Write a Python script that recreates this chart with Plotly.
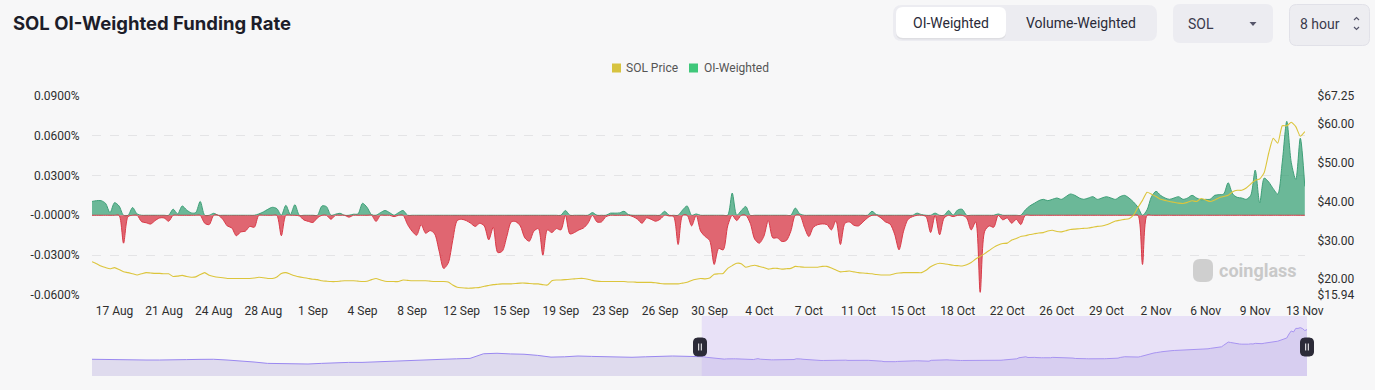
import plotly.graph_objects as go
import pandas as pd

W, H = 1375, 390

# ---------------- data ----------------
funding_start = "2023-08-15 16:00"   # 8-hour funding intervals
funding_rate = [  # OI-weighted funding rate, in %
    0.0104, 0.011, 0.011, 0.009, 0.002, 0.0095, 0.007, -0.021, -0.001, 0.0058,
    0.001, -0.0048, -0.0056, -0.0066, -0.004, -0.002, -0.002, -0.0045, 0.0046, 0.001,
    0.007, 0.004, 0.0018, 0.002, 0.0104, -0.006, -0.007, 0.0015, 0.0, -0.003,
    -0.008, -0.0095, -0.0154, -0.0125, -0.012, -0.0084, -0.009, 0.001, 0.0025, 0.0045,
    0.006, 0.005, -0.0154, 0.0075, 0.0005, 0.008, -0.0005, -0.0035, -0.0046, -0.0054,
    -0.002, 0.007, 0.0065, -0.003, 0.0008, 0.0015, 0.0, -0.0014, 0.0008, 0.001,
    0.009, 0.006, 0.0005, -0.0046, 0.002, 0.0036, 0.002, -0.001, 0.002, 0.0036,
    -0.007, -0.012, -0.015, -0.007, -0.0135, -0.0115, -0.014, -0.027, -0.040, -0.036,
    -0.019, -0.004, -0.003, -0.004, -0.006, -0.0084, -0.006, -0.008, -0.0185, -0.009,
    -0.028, -0.027, -0.016, -0.005, -0.0048, -0.008, -0.017, -0.0195, -0.012, -0.010,
    -0.030, -0.011, -0.013, -0.010, -0.011, 0.0036, -0.014, -0.013, -0.011, -0.0096,
    -0.006, 0.002, -0.005, -0.005, -0.001, 0.0016, 0.0016, 0.0018, 0.003, 0.0005,
    -0.001, -0.003, -0.006, -0.002, -0.003, -0.0045, -0.003, 0.003, -0.0005, -0.001,
    -0.022, 0.004, 0.007, -0.008, 0.001, -0.012, -0.016, -0.019, -0.037, -0.025,
    -0.026, -0.008, 0.0167, -0.004, 0.0035, 0.0066, -0.006, -0.018, -0.021, -0.016,
    -0.004, -0.017, -0.017, -0.0197, -0.019, -0.012, 0.0054, 0.001, -0.009, -0.016,
    -0.009, -0.007, -0.0065, -0.007, -0.011, -0.004, -0.022, -0.006, -0.005, -0.0075,
    -0.008, -0.005, -0.002, 0.003, 0.0005, -0.002, -0.005, -0.0065, -0.014, -0.026,
    -0.012, -0.003, -0.001, 0.0016, 0.0005, -0.001, -0.013, 0.0016, -0.0147, -0.002,
    0.0036, -0.001, 0.004, 0.0045, -0.002, -0.011, -0.005, -0.058, -0.012, -0.008,
    -0.009, 0.001, -0.0034, -0.002, -0.006, -0.003, -0.007, 0.004, 0.007, 0.009,
    0.011, 0.012, 0.011, 0.012, 0.013, 0.012, 0.014, 0.016, 0.015, 0.013,
    0.012, 0.013, 0.014, 0.012, 0.013, 0.014, 0.013, 0.012, 0.014, 0.015,
    0.013, 0.010, 0.006, -0.037, 0.004, 0.014, 0.018, 0.015, 0.013, 0.012,
    0.013, 0.014, 0.012, 0.013, 0.015, 0.013, 0.0117, 0.012, 0.012, 0.015,
    0.0155, 0.016, 0.0245, 0.016, 0.0135, 0.013, 0.012, 0.015, 0.034, 0.0094,
    0.028, 0.025, 0.020, 0.016, 0.040, 0.0707, 0.0396, 0.027, 0.058, 0.0217,
]
sol_price = [  # SOL price, USD
    24.5, 24.0, 23.4, 23.0, 22.7, 23.0, 22.5, 21.9, 21.7, 21.4,
    21.1, 21.4, 21.7, 21.6, 21.5, 21.5, 21.4, 21.4, 20.7, 20.8,
    21.0, 20.7, 20.5, 20.6, 21.2, 21.7, 21.0, 20.7, 20.5, 20.4,
    20.2, 20.2, 20.2, 20.2, 20.2, 20.2, 20.3, 20.5, 20.4, 20.2,
    20.2, 20.6, 21.5, 21.7, 21.3, 20.9, 20.6, 20.4, 20.2, 20.0,
    19.9, 19.6, 19.5, 19.4, 19.4, 19.5, 19.6, 19.6, 19.6, 19.5,
    19.4, 19.5, 19.9, 20.2, 19.8, 19.5, 19.4, 19.4, 19.4, 19.8,
    19.7, 19.6, 19.6, 19.6, 19.6, 19.5, 19.4, 19.4, 19.4, 19.3,
    18.5, 17.95, 17.8, 17.7, 17.7, 17.8, 17.9, 18.2, 18.4, 18.6,
    18.7, 18.8, 18.8, 18.8, 18.9, 19.0, 19.0, 18.9, 18.8, 18.8,
    18.6, 18.5, 19.6, 19.8, 19.8, 19.9, 20.0, 20.1, 20.2, 20.2,
    20.0, 19.7, 19.5, 19.4, 19.4, 19.4, 19.4, 19.4, 19.4, 19.3,
    19.3, 19.2, 19.2, 19.2, 19.2, 19.1, 18.9, 18.8, 18.8, 18.8,
    18.8, 19.0, 19.2, 19.7, 20.0, 20.2, 20.1, 20.3, 21.3, 21.4,
    21.5, 22.8, 23.5, 24.1, 24.0, 23.1, 23.4, 23.6, 23.3, 23.0,
    22.6, 22.8, 22.8, 22.6, 22.7, 22.8, 23.3, 23.2, 23.1, 23.1,
    23.1, 23.1, 23.3, 23.3, 22.9, 22.4, 21.9, 22.0, 22.1, 21.9,
    21.7, 21.6, 21.5, 21.4, 21.2, 21.1, 21.1, 21.1, 21.4, 21.6,
    21.7, 21.7, 21.7, 21.7, 21.7, 22.3, 23.2, 23.8, 24.1, 24.0,
    23.8, 23.6, 23.5, 23.4, 23.7, 24.3, 25.2, 25.9, 26.6, 27.4,
    28.2, 28.8, 29.2, 29.3, 30.1, 30.5, 31.0, 31.2, 31.5, 31.7,
    31.9, 32.0, 32.4, 32.6, 32.3, 32.2, 32.5, 32.8, 32.9, 33.0,
    33.1, 33.2, 33.4, 33.6, 33.7, 34.0, 34.5, 35.0, 35.2, 35.4,
    35.6, 36.5, 38.5, 40.3, 42.4, 41.9, 41.3, 40.6, 40.3, 40.0,
    39.8, 39.6, 39.5, 39.8, 40.2, 40.0, 40.8, 40.4, 40.0, 40.4,
    41.0, 41.3, 41.6, 42.5, 42.9, 42.9, 43.5, 44.5, 45.5, 45.8,
    47.5, 52.5, 56.3, 55.0, 59.5, 59.5, 60.4, 59.3, 56.8, 58.0,
]
tick_start = "2023-08-17 08:00"      # one axis label every 11 intervals (88 h)
tick_labels = ["17 Aug", "21 Aug", "24 Aug", "28 Aug", "1 Sep", "4 Sep", "8 Sep",
               "12 Sep", "15 Sep", "19 Sep", "23 Sep", "26 Sep", "30 Sep", "4 Oct",
               "7 Oct", "11 Oct", "15 Oct", "18 Oct", "22 Oct", "26 Oct", "29 Oct",
               "2 Nov", "6 Nov", "9 Nov", "13 Nov"]
rate_ticks = [-0.06, -0.03, 0.0, 0.03, 0.06, 0.09]
rate_labels = ["-0.0600%", "-0.0300%", "-0.0000%", "0.0300%", "0.0600%", "0.0900%"]
price_ticks = [15.94, 20, 30, 40, 50, 60, 67.25]
price_labels = ["$15.94", "$20.00", "$30.00", "$40.00", "$50.00", "$60.00", "$67.25"]

nav_early_start = "2023-05-17 08:00"  # navigator history, 2-day steps
nav_early_price = [
    20.9, 20.5, 20.0, 20.2, 20.0, 20.0, 20.6, 20.5, 20.8, 20.9,
    20.0, 19.0, 17.5, 15.8, 15.4, 15.1, 15.0, 15.8, 16.6, 17.0,
    17.0, 17.5, 18.0, 18.8, 19.2, 19.8, 20.9, 21.5, 22.0, 27.8,
    28.4, 27.6, 27.2, 25.8, 23.6, 24.0, 25.0, 24.5, 24.0, 23.5,
    23.4, 24.0, 24.7, 25.0, 24.6,
]

# ---------------- derived ----------------
times = pd.date_range(funding_start, periods=len(funding_rate), freq="8h")
ticks = pd.date_range(tick_start, periods=len(tick_labels), freq="88h")
pos = [max(v, 0) for v in funding_rate]
neg = [min(v, 0) for v in funding_rate]
nav_times = list(pd.date_range(nav_early_start, periods=len(nav_early_price), freq="2D")) + list(times)
nav_price = nav_early_price + sol_price

BG = "#f7f7f8"
TICKFONT = dict(family="Roboto, sans-serif", size=12, color="#2e2e2e")


def fx(x):
    return x / W


def fy(y):
    return 1 - y / H


def rrect(x0, y0, x1, y1, r):
    pts = [("M", x0 + r, y0), ("L", x1 - r, y0), ("Q", x1, y0, x1, y0 + r),
           ("L", x1, y1 - r), ("Q", x1, y1, x1 - r, y1), ("L", x0 + r, y1),
           ("Q", x0, y1, x0, y1 - r), ("L", x0, y0 + r), ("Q", x0, y0, x0 + r, y0)]
    s = ""
    for p in pts:
        if p[0] == "Q":
            s += f"Q{fx(p[1]):.5f},{fy(p[2]):.5f} {fx(p[3]):.5f},{fy(p[4]):.5f} "
        else:
            s += f"{p[0]}{fx(p[1]):.5f},{fy(p[2]):.5f} "
    return s + "Z"


fig = go.Figure()
fig.add_trace(go.Scatter(x=times, y=pos, mode="lines", fill="tozeroy",
                         line=dict(color="#3f9f78", width=1, shape="spline", smoothing=0.8),
                         fillcolor="rgba(52,160,115,0.72)", hoverinfo="skip", showlegend=False))
fig.add_trace(go.Scatter(x=times, y=neg, mode="lines", fill="tozeroy",
                         line=dict(color="#d83a48", width=1, shape="spline", smoothing=0.8),
                         fillcolor="rgba(214,40,55,0.70)", hoverinfo="skip", showlegend=False))
fig.add_trace(go.Scatter(x=times, y=sol_price, mode="lines", yaxis="y3",
                         line=dict(color="#dcc53c", width=1.1, shape="spline", smoothing=0.5),
                         hoverinfo="skip", showlegend=False))
fig.add_trace(go.Scatter(x=nav_times, y=nav_price, mode="lines", xaxis="x2", yaxis="y2",
                         fill="tozeroy", fillcolor="rgba(180,170,222,0.36)",
                         line=dict(color="#9a88f0", width=1), hoverinfo="skip", showlegend=False))

shapes = []
annotations = []

# selection window in navigator
shapes.append(dict(type="rect", xref="x2", yref="y2 domain", x0=times[0], x1=times[-1],
                   y0=0, y1=1, fillcolor="rgba(200,175,245,0.30)", line=dict(width=0), layer="above"))
for hx in (700, 1307):
    shapes.append(dict(type="path", xref="paper", yref="paper", xsizemode="pixel", ysizemode="pixel",
                       xanchor=fx(hx), yanchor=fy(347),
                       path="M -6.5,-5 Q -6.5,-9 -2.5,-9 L 2.5,-9 Q 6.5,-9 6.5,-5 L 6.5,5 "
                            "Q 6.5,9 2.5,9 L -2.5,9 Q -6.5,9 -6.5,5 Z",
                       fillcolor="#2c2b38", line=dict(color="#2c2b38", width=1)))
    shapes.append(dict(type="path", xref="paper", yref="paper", xsizemode="pixel", ysizemode="pixel",
                       xanchor=fx(hx), yanchor=fy(347),
                       path="M -1.3,-3.5 L -1.3,3.5 M 1.3,-3.5 L 1.3,3.5",
                       line=dict(color="#ffffff", width=1)))

# header controls
shapes.append(dict(type="path", xref="paper", yref="paper", path=rrect(893, 5, 1157, 41, 9),
                   fillcolor="#ececf1", line=dict(width=0)))
shapes.append(dict(type="path", xref="paper", yref="paper", path=rrect(896, 8.5, 1006, 39.5, 7),
                   fillcolor="rgba(0,0,0,0.06)", line=dict(width=0)))
shapes.append(dict(type="path", xref="paper", yref="paper", path=rrect(896, 7, 1006, 38, 7),
                   fillcolor="#ffffff", line=dict(width=0)))
shapes.append(dict(type="path", xref="paper", yref="paper", path=rrect(1173, 4, 1273, 43, 7),
                   fillcolor="#ececf1", line=dict(width=0)))
shapes.append(dict(type="path", xref="paper", yref="paper", path=rrect(1289.5, 4.5, 1369.5, 45.5, 7),
                   fillcolor="#ededf1", line=dict(color="#e1e1e8", width=1)))
shapes.append(dict(type="path", xref="paper", yref="paper",
                   path=f"M{fx(1249.5)},{fy(22)} L{fx(1256.5)},{fy(22)} L{fx(1253)},{fy(26)} Z",
                   fillcolor="#55556a", line=dict(width=0)))
shapes.append(dict(type="path", xref="paper", yref="paper",
                   path=f"M{fx(1354)},{fy(20)} L{fx(1356.5)},{fy(17.5)} L{fx(1359)},{fy(20)} "
                        f"M{fx(1354)},{fy(27)} L{fx(1356.5)},{fy(29.5)} L{fx(1359)},{fy(27)}",
                   line=dict(color="#55556a", width=1.2)))

# legend squares
shapes.append(dict(type="rect", xref="paper", yref="paper", x0=fx(612), x1=fx(621), y0=fy(72.5), y1=fy(63.5),
                   fillcolor="#d7c340", line=dict(width=0)))
shapes.append(dict(type="rect", xref="paper", yref="paper", x0=fx(689), x1=fx(698), y0=fy(72.5), y1=fy(63.5),
                   fillcolor="#3fc77a", line=dict(width=0)))

# watermark logo blob
shapes.append(dict(type="path", xref="paper", yref="paper", path=rrect(1193, 259, 1213, 282, 7),
                   fillcolor="#cfcfcf", line=dict(width=0)))

annotations.append(dict(text="<b>SOL OI-Weighted Funding Rate</b>", x=fx(11), y=fy(23), xref="paper",
                        yref="paper", xanchor="left", yanchor="middle", showarrow=False,
                        font=dict(family="Inter, sans-serif", size=18.5, color="#1d1d29")))
for txt, x in (("OI-Weighted", 951), ("Volume-Weighted", 1081)):
    annotations.append(dict(text=txt, x=fx(x), y=fy(23), xref="paper", yref="paper", xanchor="center",
                            yanchor="middle", showarrow=False,
                            font=dict(family="Roboto, sans-serif", size=14, color="#2a2a38")))
annotations.append(dict(text="SOL", x=fx(1186), y=fy(24), xref="paper", yref="paper", xanchor="left",
                        yanchor="middle", showarrow=False,
                        font=dict(family="Roboto, sans-serif", size=14, color="#3a3a4c")))
annotations.append(dict(text="8 hour", x=fx(1298), y=fy(24), xref="paper", yref="paper", xanchor="left",
                        yanchor="middle", showarrow=False,
                        font=dict(family="Roboto, sans-serif", size=14, color="#3a3a4c")))
for txt, x in (("SOL Price", 624), ("OI-Weighted", 702)):
    annotations.append(dict(text=txt, x=fx(x), y=fy(68), xref="paper", yref="paper", xanchor="left",
                            yanchor="middle", showarrow=False,
                            font=dict(family="Roboto, sans-serif", size=12, color="#555555")))
annotations.append(dict(text="<b>coinglass</b>", x=fx(1217), y=fy(270), xref="paper", yref="paper",
                        xanchor="left", yanchor="middle", showarrow=False,
                        font=dict(family="Roboto, sans-serif", size=18, color="#c9c9c9")))

fig.update_layout(
    template="none",
    width=W, height=H,
    margin=dict(l=0, r=0, t=0, b=0),
    paper_bgcolor=BG, plot_bgcolor=BG,
    showlegend=False,
    xaxis=dict(domain=[fx(92), fx(1305)], anchor="y",
               range=[times[0], times[-1] + pd.Timedelta(minutes=20)],
               tickmode="array", tickvals=list(ticks), ticktext=tick_labels,
               showgrid=False, zeroline=False, showline=False,
               ticks="outside", ticklen=5, tickcolor="rgba(0,0,0,0)",
               tickfont=TICKFONT, automargin=False),
    yaxis=dict(domain=[fy(295), fy(95.7)], anchor="x", range=[-0.06, 0.09],
               tickmode="array", tickvals=rate_ticks, ticktext=rate_labels,
               showgrid=True, gridcolor="#e4e4e6", griddash="dash", gridwidth=1,
               zeroline=False, showline=False,
               ticks="outside", ticklen=9, tickcolor="rgba(0,0,0,0)",
               tickfont=TICKFONT, automargin=False),
    yaxis3=dict(overlaying="y", side="right", anchor="x", range=[15.94, 67.25],
                tickmode="array", tickvals=price_ticks, ticktext=price_labels,
                showgrid=False, zeroline=False, showline=False,
                ticks="outside", ticklen=9, tickcolor="rgba(0,0,0,0)",
                tickfont=TICKFONT, automargin=False),
    xaxis2=dict(domain=[fx(92), fx(1307)], anchor="y2",
                range=[nav_early_start, times[-1]], visible=False),
    yaxis2=dict(domain=[fy(376), fy(316)], anchor="x2", range=[0, 75], visible=False),
    shapes=shapes,
    annotations=annotations,
)

fig.write_html("out.html",
               config={"displayModeBar": False},
               post_script="document.body.style.margin='0px';"
                           "document.body.style.background='" + BG + "';")
